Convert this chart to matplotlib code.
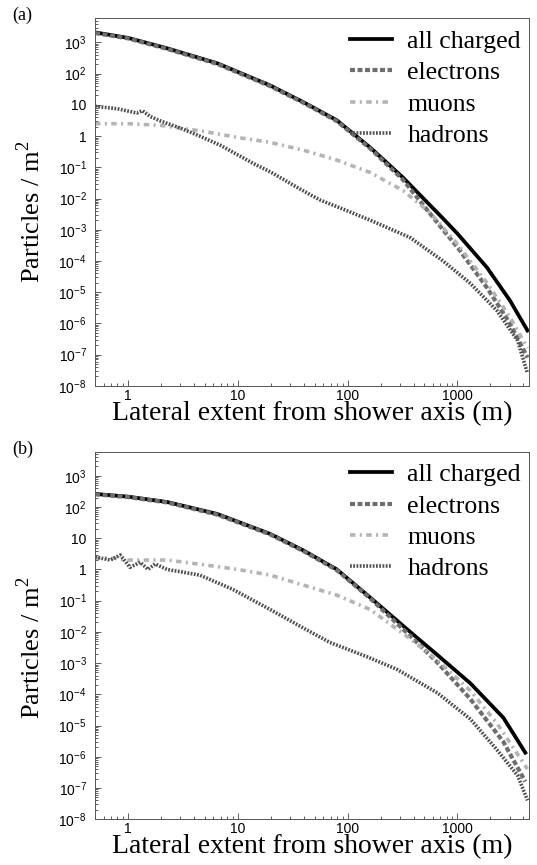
import numpy as np
import matplotlib
matplotlib.use('Agg')
from matplotlib import pyplot as plt
from matplotlib.ticker import FixedLocator, FuncFormatter, LogLocator, NullFormatter

# ---- data (distance in m, density in particles/m^2) ----
# panel (a)
a_all_x = [0.5, 1, 2.27, 6.5, 19.7, 40, 80, 161, 320, 741, 1000, 1862, 3020, 4365]
a_all_y = [2100, 1400, 650, 215, 42, 12, 3.2, 0.43, 0.047, 2.3e-3, 7.6e-4, 6.2e-5, 5.4e-6, 5.9e-7]
a_ele_x = [0.5, 1, 2.27, 6.5, 19.7, 40, 80, 161, 320, 741, 1000, 1862, 3020, 4365]
a_ele_y = [2000, 1350, 620, 205, 40, 11.5, 3.0, 0.40, 0.040, 1.0e-3, 2.8e-4, 1.4e-5, 1.0e-6, 8e-8]
a_muo_x = [0.5, 1, 2, 5, 10, 19.7, 40, 80, 161, 320, 565, 1000, 1862, 3020, 4365]
a_muo_y = [2.5, 2.5, 2.2, 1.4, 0.9, 0.63, 0.35, 0.17, 0.068, 0.018, 3.5e-3, 3.5e-4, 2.0e-5, 1.6e-6, 1.6e-7]
a_had_x = [0.5, 0.8, 1.2, 1.35, 1.6, 2, 3, 4.5, 7, 10, 14, 20, 37, 56, 100, 162, 372, 741, 1318, 2290, 3548, 4365]
a_had_y = [9, 7.5, 5.5, 6.5, 4.2, 3.0, 1.8, 1.0, 0.5, 0.25, 0.13, 0.07, 0.02, 9e-3, 4e-3, 2e-3,
           5.6e-4, 1.0e-4, 1.9e-5, 2.6e-6, 2.8e-7, 2.5e-8]

# panel (b)
b_all_x = [0.5, 1, 2.27, 6.5, 19.7, 40, 80, 161, 372, 650, 1318, 2630, 4170]
b_all_y = [263, 215, 145, 60, 13.8, 4.0, 1.0, 0.126, 0.010, 1.9e-3, 2.24e-4, 1.78e-5, 1.35e-6]
b_ele_x = [0.5, 1, 2.27, 6.5, 19.7, 40, 80, 161, 372, 650, 1318, 2630, 4170]
b_ele_y = [255, 208, 140, 57, 13.3, 3.8, 0.95, 0.118, 7.5e-3, 1.1e-3, 7e-5, 3e-6, 1.6e-7]
b_muo_x = [0.5, 0.75, 0.85, 1, 1.3, 2.27, 5, 10, 19.7, 80, 161, 372, 650, 1318, 2290, 4365]
b_muo_y = [2.3, 2.3, 2.1, 2.0, 2.0, 2.0, 1.4, 1.0, 0.66, 0.15, 0.052, 6e-3, 1.3e-3, 1.3e-4, 1.2e-5, 4e-7]
b_had_x = [0.5, 0.69, 0.85, 1.04, 1.29, 1.52, 1.76, 2.27, 4.5, 9, 19.7, 40, 69, 150, 282, 661,
           1318, 2290, 3548, 4365]
b_had_y = [2.5, 2.0, 2.9, 1.17, 1.7, 1.0, 1.5, 1.0, 0.66, 0.23, 0.052, 0.013, 4.6e-3, 1.6e-3,
           6.3e-4, 1.1e-4, 1.6e-5, 1.7e-6, 2.5e-7, 4e-8]

labels = ['all charged', 'electrons', 'muons', 'hadrons']
y_decades = [3, 2, 1, 0, -1, -2, -3, -4, -5, -6, -7, -8]
x_ticks = [1, 10, 100, 1000]

styles = [
    dict(color='black', lw=2.7, ls='-'),
    dict(color='#6e6e6e', lw=3.0, ls=(0, (1.2, 0.6))),
    dict(color='#b4b4b4', lw=2.6, ls=(0, (1.5, 1.2, 0.6, 1.2))),
    dict(color='#505050', lw=2.6, ls=(0, (0.5, 0.4))),
]

serif = ['Liberation Serif', 'DejaVu Serif']
sans = ['Liberation Sans', 'DejaVu Sans']
plt.rcParams['mathtext.fontset'] = 'custom'
plt.rcParams['mathtext.rm'] = 'Liberation Sans'


def ylab(v, pos):
    e = int(round(np.log10(v)))
    if e == 0:
        return '1'
    if e == 1:
        return '10'
    return r'$\mathregular{10^{%d}}$' % e


fig = plt.figure(figsize=(5.37, 8.65), dpi=100)
panels = [
    ('(a)', [0.177, 0.554, 0.808, 0.425], 0.473,
     [(a_all_x, a_all_y), (a_ele_x, a_ele_y), (a_muo_x, a_muo_y), (a_had_x, a_had_y)]),
    ('(b)', [0.177, 0.053, 0.808, 0.425], 0.465,
     [(b_all_x, b_all_y), (b_ele_x, b_ele_y), (b_muo_x, b_muo_y), (b_had_x, b_had_y)]),
]

for tag, rect, ylab_y, series in panels:
    ax = fig.add_axes(rect)
    for (xs, ys), lab, st in zip(series, labels, styles):
        ax.plot(xs, ys, label=lab, **st)
    ax.set_xscale('log')
    ax.set_yscale('log')
    ax.set_xlim(0.5, 4500)
    ax.set_ylim(1e-8, 6e3)

    ax.xaxis.set_major_locator(FixedLocator(x_ticks))
    ax.xaxis.set_major_formatter(FuncFormatter(lambda v, p: '%d' % v))
    ax.xaxis.set_minor_locator(LogLocator(base=10, subs=np.arange(2, 10)))
    ax.xaxis.set_minor_formatter(NullFormatter())
    ax.yaxis.set_major_locator(FixedLocator([10.0 ** e for e in y_decades]))
    ax.yaxis.set_major_formatter(FuncFormatter(ylab))
    ax.yaxis.set_minor_locator(LogLocator(base=10, subs=np.arange(2, 10), numticks=30))
    ax.yaxis.set_minor_formatter(NullFormatter())
    ax.tick_params(which='both', direction='in', top=False, right=False, width=0.6, color='#444')
    ax.tick_params(which='major', length=4)
    ax.tick_params(which='minor', length=2)
    ax.tick_params(axis='y', pad=6)
    ax.tick_params(axis='x', pad=2)
    for t in ax.get_xticklabels() + ax.get_yticklabels():
        t.set_family(sans)
        t.set_fontsize(10)
    for s in ax.spines.values():
        s.set_linewidth(0.7)
        s.set_color('#555')

    ax.set_xlabel('Lateral extent from shower axis (m)', family=serif, fontsize=20, labelpad=-1)
    ax.set_ylabel(r'Particles / m$^\mathregular{2}$', family=serif, fontsize=19)
    ax.yaxis.set_label_coords(-0.115, ylab_y)
    ax.legend(loc='upper right', bbox_to_anchor=(1.008, 1.0), frameon=False,
              prop=dict(family=serif, size=18.5),
              handlelength=1.67, handletextpad=0.58, labelspacing=0.33,
              borderpad=0.45, borderaxespad=0.0)
    fig.text(0.022, rect[1] + rect[3] + 0.003, tag, family=serif, fontsize=13, va='center')

fig.savefig('out.png', dpi=100)
